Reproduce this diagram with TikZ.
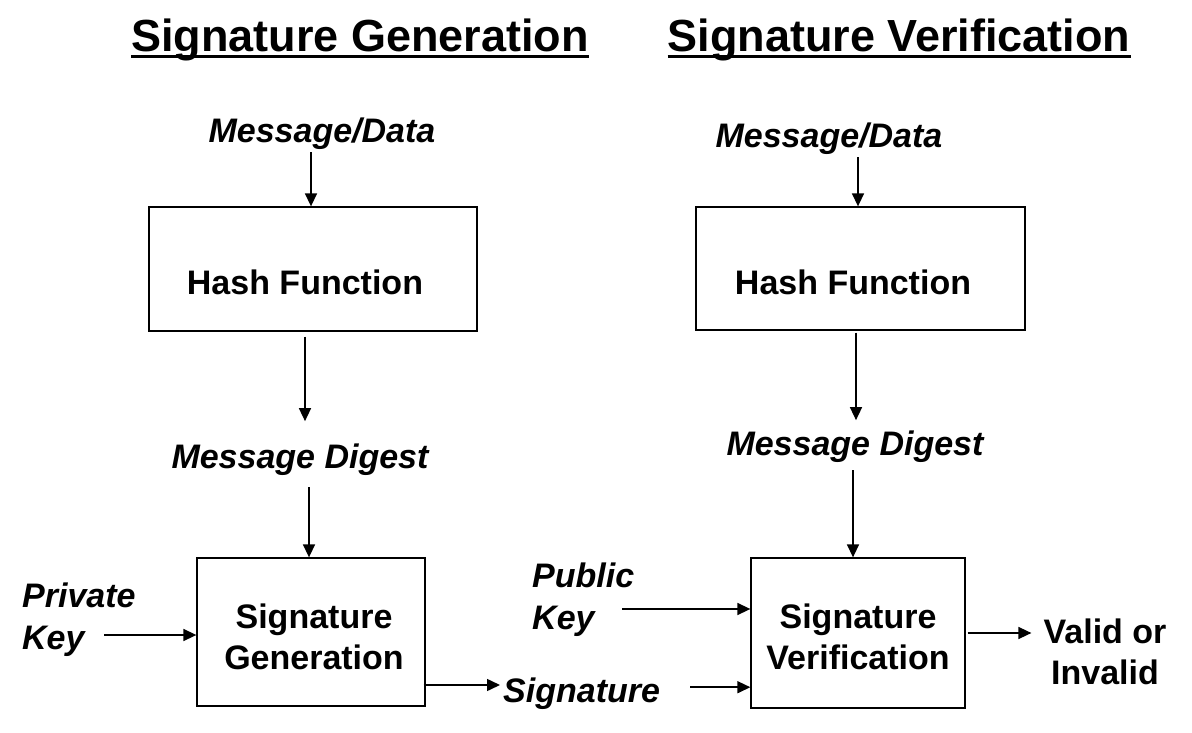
\documentclass[tikz,border=0pt]{standalone}
\usepackage{fontspec}
\setmainfont{Liberation Sans}
\usetikzlibrary{arrows.meta,calc}
\begin{document}
\begin{tikzpicture}[x=1pt,y={(0pt,-1pt)},
  box/.style={draw,line width=1.3pt,inner sep=0pt},
  lbl/.style={inner sep=0pt,font=\fontsize{34}{41}\selectfont\bfseries},
  ilbl/.style={inner sep=0pt,font=\fontsize{34}{42}\selectfont\bfseries\itshape},
  ttl/.style={inner sep=0pt,font=\fontsize{45}{50}\selectfont\bfseries},
  arr/.style={line width=1.5pt,-{Triangle[length=13pt,width=12pt]}},
  uline/.style={line width=3pt}]
\useasboundingbox (0,0) rectangle (1192,733);
% titles
\node[ttl,anchor=base] (t1) at (360,52) {Signature Generation};
\node[ttl,anchor=base] (t2) at (899,52) {Signature Verification};
\draw[uline] ($(t1.base west)+(0,5)$) -- ($(t1.base east)+(0,5)$);
\draw[uline] ($(t2.base west)+(0,5)$) -- ($(t2.base east)+(0,5)$);
% left column
\node[ilbl,anchor=base] (md1) at (322,143) {Message/Data};
\node[box,minimum width=328pt,minimum height=124pt] (hf1) at (313,269) {};
\node[lbl,anchor=base] (hf1t) at (305,294) {Hash Function};
\node[ilbl,anchor=base] (dg1) at (300,468) {Message Digest};
\node[box,minimum width=228pt,minimum height=148pt] (sg) at (311,632) {};
\node[lbl,align=center] (sgt) at (314,637) {Signature\\Generation};
\node[ilbl,align=left,anchor=west] (pk) at (22,620) {Private\\Key};
\node[ilbl,anchor=base west] (sig) at (503,702) {Signature};
% right column
\node[ilbl,anchor=base] (md2) at (829,148) {Message/Data};
\node[box,minimum width=329pt,minimum height=123pt] (hf2) at (860.5,268.5) {};
\node[lbl,anchor=base] (hf2t) at (853,294) {Hash Function};
\node[ilbl,anchor=base] (dg2) at (855,455) {Message Digest};
\node[box,minimum width=214pt,minimum height=150pt] (sv) at (858,633) {};
\node[lbl,align=center] (svt) at (858,637) {Signature\\Verification};
\node[ilbl,align=left,anchor=west] (pub) at (532,600) {Public\\Key};
\node[lbl,align=center] (vi) at (1105,652) {Valid or\\Invalid};
% free ends of connectors
\coordinate (a1) at ($(md1.south)+(-11,2)$);
\coordinate (a2) at ($(hf1.south)+(-8,5)$);
\coordinate (a2e) at ($(dg1.north)+(0,-22)$);
\coordinate (a3) at ($(dg1.south)+(9,12)$);
\coordinate (a4) at ($(pk.west)+(82,15)$);
\coordinate (a5) at ($(sg.east)+(-2,53)$);
\coordinate (a6) at ($(sig.west)+(187,-6)$);
\coordinate (a7) at ($(pub.west)+(90,9)$);
\coordinate (a8) at ($(sv.east)+(2,0)$);
\coordinate (a9) at ($(md2.south)+(29,2)$);
\coordinate (a10) at ($(hf2.south)+(-4.5,2)$);
\coordinate (a10e) at ($(dg2.north)+(0,-10)$);
\coordinate (a11) at ($(dg2.south)+(-2,8)$);
% connectors
\draw[arr] (a1) -- (a1 |- hf1.north);
\draw[arr] (a2) -- (a2 |- a2e);
\draw[arr] (a3) -- (a3 |- sg.north);
\draw[arr] (a4) -- (a4 -| sg.west);
\draw[arr] (a5) -- ($(a5 -| sig.west)+(-3,0)$);
\draw[arr] (a6) -- (a6 -| sv.west);
\draw[arr] (a7) -- (a7 -| sv.west);
\draw[arr] (a8) -- ($(a8 -| vi.west)+(-12,0)$);
\draw[arr] (a9) -- (a9 |- hf2.north);
\draw[arr] (a10) -- (a10 |- a10e);
\draw[arr] (a11) -- (a11 |- sv.north);
\end{tikzpicture}
\end{document}
